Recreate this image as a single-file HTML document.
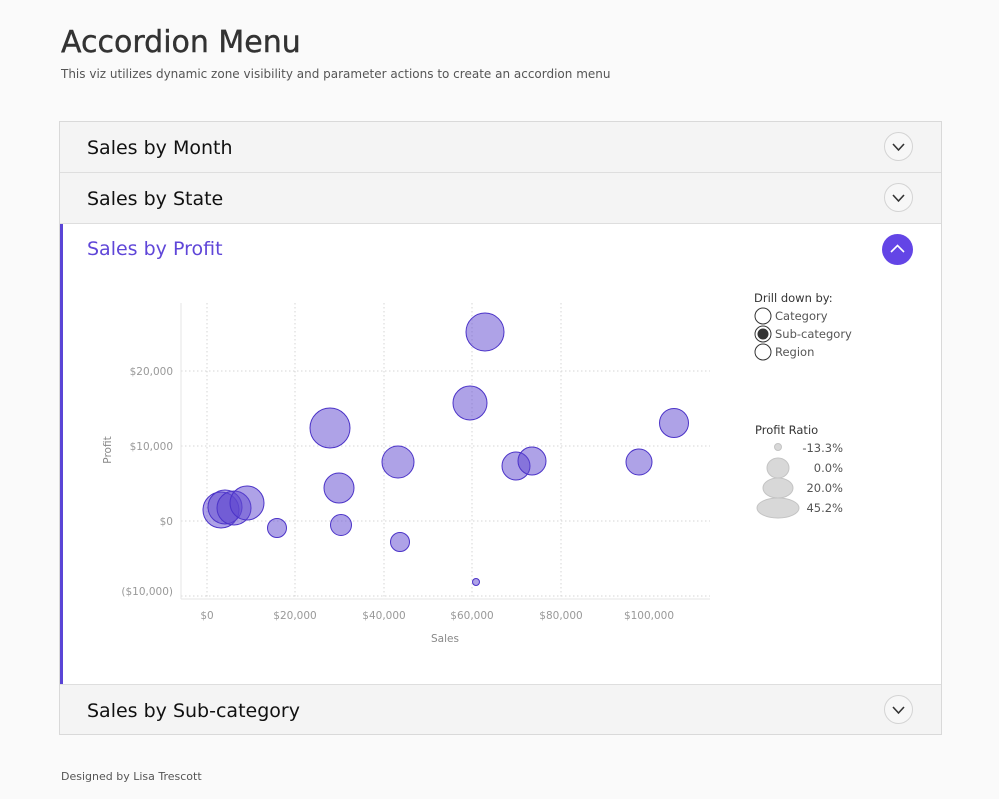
<!DOCTYPE html>
<html><head><meta charset="utf-8"><style>
body{margin:0;width:999px;height:799px;background:#fafafa;font-family:"DejaVu Sans","Liberation Sans",sans-serif;position:relative;overflow:hidden;color:#333}
.t{position:absolute;white-space:nowrap}
.box{position:absolute;left:59px;top:121px;width:881px;height:612px;border:1px solid #d9d9d9;background:#fff}
.hdr{position:absolute;left:0;width:881px;height:50px;background:#f4f4f4;border-bottom:1px solid #dedede}
.hdr span{position:absolute;left:27px;top:15px;font-size:19px;color:#111}
.btn{position:absolute;left:824px;top:10px;width:27px;height:27px;border:1px solid #d4d4d4;border-radius:50%;background:#f7f7f7}
</style></head><body>
<div class="t" style="left:61px;top:25px;font-size:30px;color:#333;font-weight:500;-webkit-text-stroke:0.4px #333">Accordion Menu</div>
<div class="t" style="left:61px;top:67px;font-size:12px;color:#555">This viz utilizes dynamic zone visibility and parameter actions to create an accordion menu</div>
<div class="box">
 <div class="hdr" style="top:0"><span>Sales by Month</span><div class="btn"><svg width="27" height="27"><path d="M8 11l5.5 6 5.5-6" fill="none" stroke="#333" stroke-width="1.6"/></svg></div></div>
 <div class="hdr" style="top:51px"><span>Sales by State</span><div class="btn"><svg width="27" height="27"><path d="M8 11l5.5 6 5.5-6" fill="none" stroke="#333" stroke-width="1.6"/></svg></div></div>
 <div style="position:absolute;left:0;top:102px;width:3px;height:461px;background:#5a45d6"></div>
 <div class="t" style="left:27px;top:116px;font-size:19px;color:#5f46d8">Sales by Profit</div>
 <div style="position:absolute;left:822px;top:112px;width:31px;height:31px;border-radius:50%;background:#6345e6"><svg width="31" height="31"><path d="M9 18l6.5-6.5 6.5 6.5" fill="none" stroke="#fff" stroke-width="1.6"/></svg></div>
 <div class="hdr" style="top:562px;border-top:1px solid #dedede;border-bottom:none;height:49px"><span>Sales by Sub-category</span><div class="btn"><svg width="27" height="27"><path d="M8 11l5.5 6 5.5-6" fill="none" stroke="#333" stroke-width="1.6"/></svg></div></div>
</div>
<svg style="position:absolute;left:0;top:0" width="999" height="799" font-family="DejaVu Sans, Liberation Sans, sans-serif">
 <g stroke="#d6d6d6" stroke-dasharray="1.5,2.5" stroke-width="1">
  <line x1="207" y1="303" x2="207" y2="598"/><line x1="295" y1="303" x2="295" y2="598"/><line x1="384" y1="303" x2="384" y2="598"/><line x1="472" y1="303" x2="472" y2="598"/><line x1="561" y1="303" x2="561" y2="598"/>
  <line x1="181" y1="371" x2="710" y2="371"/><line x1="181" y1="446" x2="710" y2="446"/><line x1="181" y1="521" x2="710" y2="521"/><line x1="181" y1="596" x2="710" y2="596"/>
 </g>
 <line x1="181" y1="303" x2="181" y2="599" stroke="#e6e6e6"/>
 <line x1="181" y1="599" x2="710" y2="599" stroke="#e6e6e6"/>
 <g font-size="10.5" fill="#999" text-anchor="end">
  <text x="173" y="375">$20,000</text><text x="173" y="450">$10,000</text><text x="173" y="525">$0</text><text x="173" y="595">($10,000)</text>
 </g>
 <g font-size="10.5" fill="#999" text-anchor="middle">
  <text x="207" y="619">$0</text><text x="295" y="619">$20,000</text><text x="384" y="619">$40,000</text><text x="472" y="619">$60,000</text><text x="561" y="619">$80,000</text><text x="649" y="619">$100,000</text>
  <text x="445" y="642" fill="#888">Sales</text>
  <text transform="translate(111,450) rotate(-90)" fill="#888">Profit</text>
 </g>
 <g fill="#5e46d0" fill-opacity="0.5" stroke="#4b33c8" stroke-width="1">
  <circle cx="485" cy="332" r="19"/><circle cx="470" cy="403" r="17"/><circle cx="330" cy="428" r="20"/><circle cx="674" cy="423" r="14.5"/>
  <circle cx="398" cy="462" r="16"/><circle cx="516" cy="466" r="14"/><circle cx="532" cy="461" r="14"/><circle cx="639" cy="462" r="13"/>
  <circle cx="339" cy="488" r="15"/><circle cx="221" cy="510" r="18"/><circle cx="225" cy="507" r="17"/><circle cx="234" cy="508" r="17"/><circle cx="247" cy="503" r="17"/>
  <circle cx="277" cy="528" r="9.5"/><circle cx="341" cy="525" r="10.5"/><circle cx="400" cy="542" r="9.5"/><circle cx="476" cy="582" r="3.5"/>
 </g>
 <g font-size="11.5" fill="#333"><text x="754" y="302">Drill down by:</text></g>
 <g font-size="11.5" fill="#555">
  <circle cx="763" cy="316" r="8" fill="#fff" stroke="#333"/><text x="775" y="320">Category</text>
  <circle cx="763" cy="334" r="8" fill="#fff" stroke="#333"/><circle cx="763" cy="334" r="5.5" fill="#333"/><text x="775" y="338">Sub-category</text>
  <circle cx="763" cy="352" r="8" fill="#fff" stroke="#333"/><text x="775" y="356">Region</text>
 </g>
 <text x="755" y="434" font-size="11.5" fill="#333">Profit Ratio</text>
 <g fill="#d8d8d8" stroke="#c4c4c4">
  <circle cx="778" cy="447" r="3.5"/>
  <ellipse cx="778" cy="468" rx="11" ry="10"/>
  <ellipse cx="778" cy="488" rx="15" ry="10"/>
  <ellipse cx="778" cy="508" rx="21" ry="10"/>
 </g>
 <g font-size="11.5" fill="#555" text-anchor="end">
  <text x="843" y="452">-13.3%</text><text x="843" y="472">0.0%</text><text x="843" y="492">20.0%</text><text x="843" y="512">45.2%</text>
 </g>
 <text x="61" y="780" font-size="11" fill="#555">Designed by Lisa Trescott</text>
</svg>
</body></html>
